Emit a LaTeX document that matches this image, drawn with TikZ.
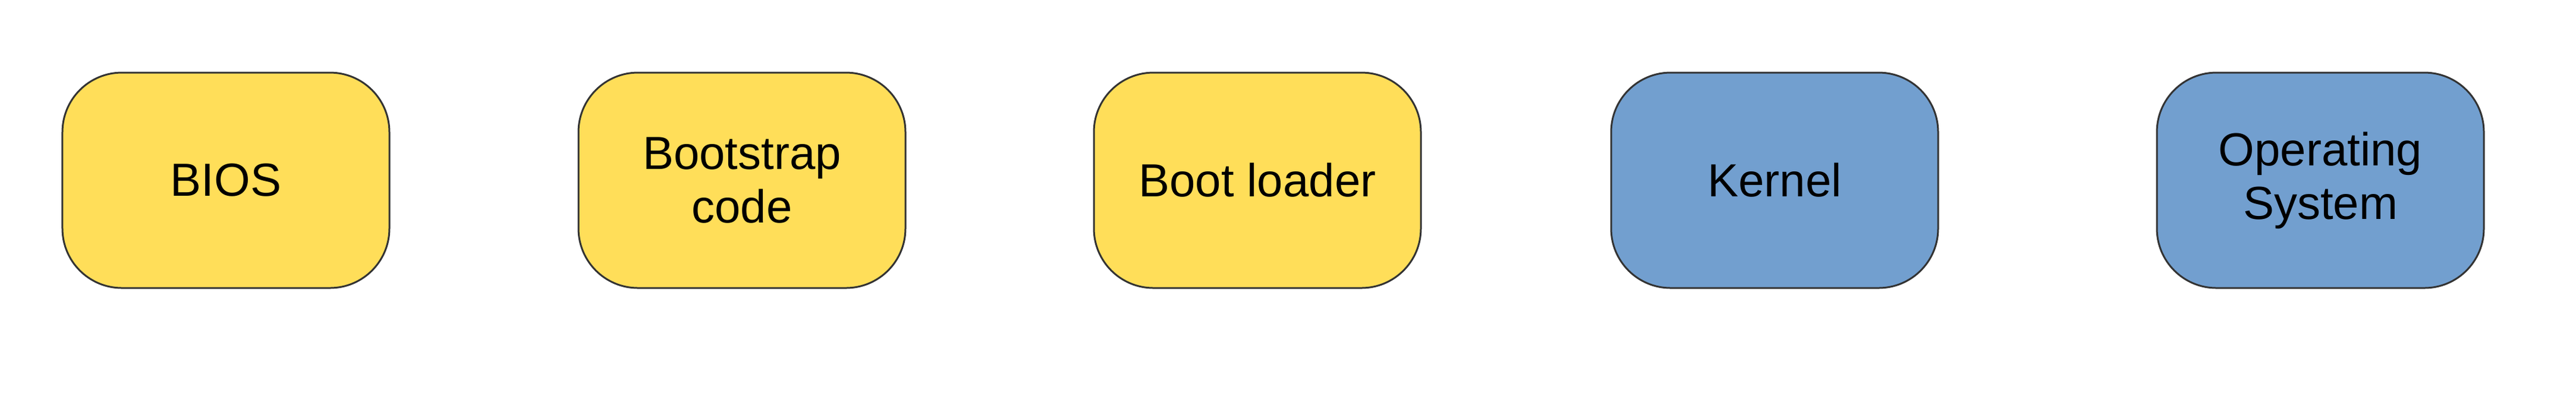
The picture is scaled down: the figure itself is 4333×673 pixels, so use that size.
\documentclass[tikz,border=0pt]{standalone}
\usepackage{fontspec}
\setmainfont{Liberation Sans}
\definecolor{boxyellow}{HTML}{FFDE59}
\definecolor{boxblue}{HTML}{729FCF}
\definecolor{boxline}{HTML}{333333}
\begin{document}
\begin{tikzpicture}[x=0.2pt,y=-0.2pt,
  stage/.style={draw=boxline, line width=0.6pt, rounded corners=20pt,
    minimum width=110pt, minimum height=72.4pt, inner sep=0pt,
    align=center, font=\fontsize{15.6pt}{18pt}\selectfont},
  early/.style={stage, fill=boxyellow},
  late/.style={stage, fill=boxblue}]
\useasboundingbox (0,0) rectangle (4333,673);
\node[early] (bios) at (380,303) {BIOS};
\node[early] (boot) at (1248,303) {Bootstrap\\code};
\node[early] (loader) at (2115,303) {Boot loader};
\node[late] (kernel) at (2985,303) {Kernel};
\node[late] (os) at (3903,303) {Operating\\System};
\end{tikzpicture}
\end{document}
